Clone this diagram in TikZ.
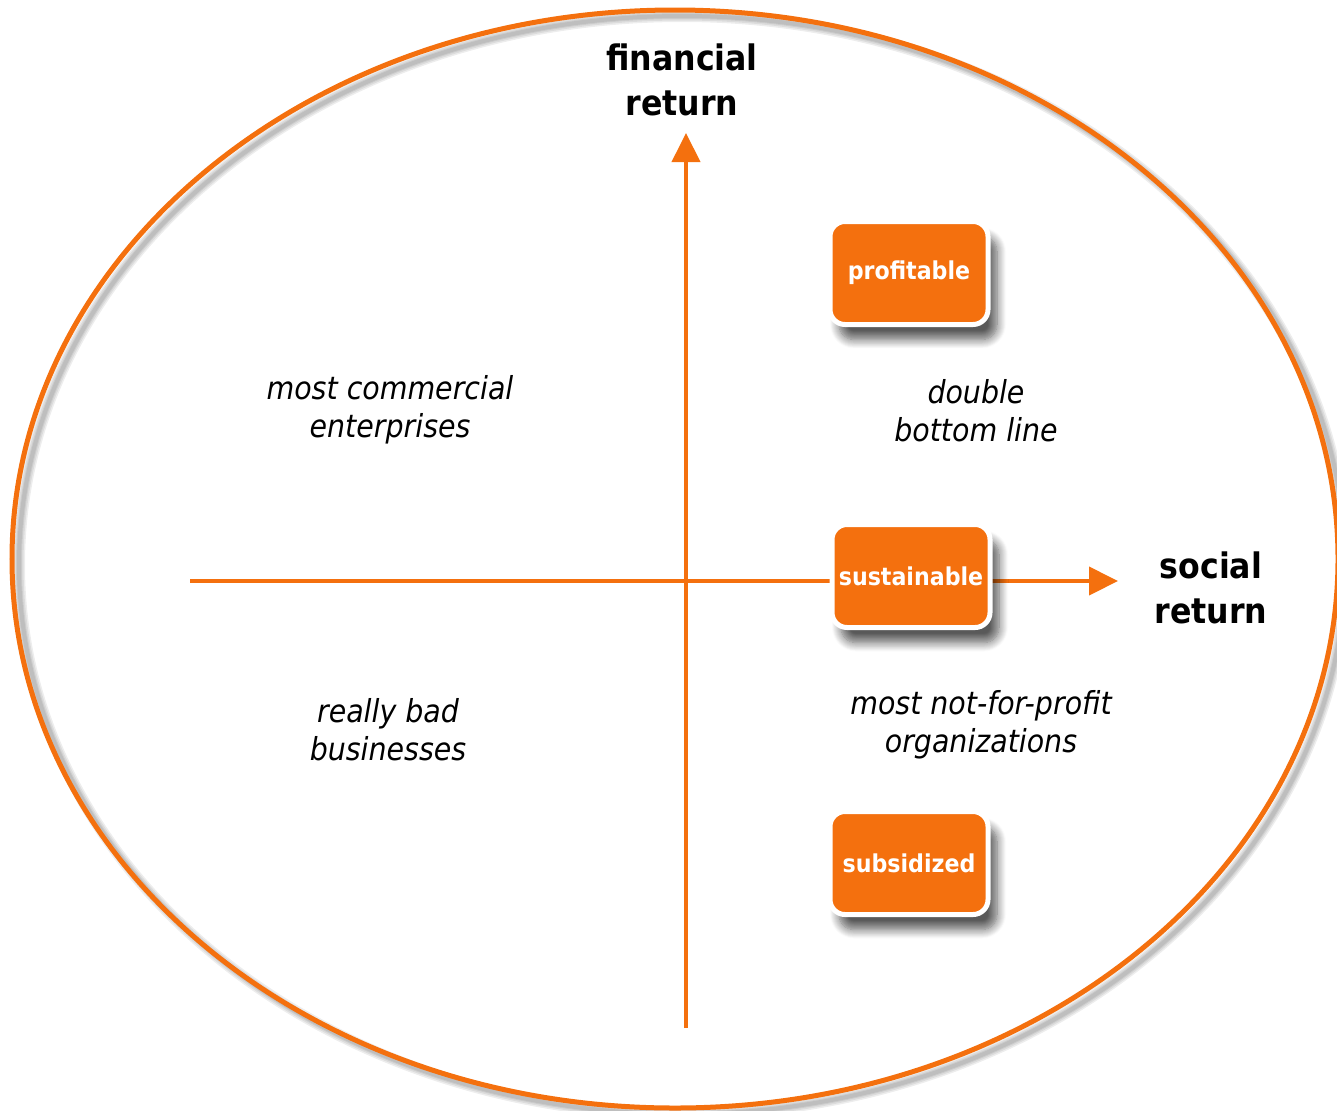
\documentclass[tikz,border=0pt]{standalone}
\usepackage{fontspec}
\setmainfont{DejaVu Sans Condensed}
\usepackage{tikz}
\usetikzlibrary{arrows.meta,shadows.blur}
\definecolor{orng}{RGB}{244,112,14}

\begin{document}
\begin{tikzpicture}[
    box/.style={rounded corners=0.15cm, fill=orng, draw=white, line width=0.05cm,
        minimum width=1.58cm, minimum height=1.03cm, inner xsep=0.06cm, text=white,
        font=\fontsize{7}{9}\selectfont\bfseries,
        blur shadow={shadow xshift=0.09cm, shadow yshift=-0.15cm, shadow opacity=65, shadow blur steps=10, shadow blur radius=0.09cm}},
    note/.style={align=center, font=\fontsize{9}{10.8}\selectfont\itshape},
    title/.style={align=center, font=\fontsize{10}{12.8}\selectfont\bfseries},
    axis/.style={draw=orng, line width=0.04cm},
    tip/.style={-{Triangle[length=0.29cm,width=0.28cm]}}
]
\useasboundingbox (0,0) rectangle (13.37,11.10);

% outer ellipse with a soft shadow
\foreach \w in {0.12,0.09,0.06,0.04}
    \draw[black, opacity=0.07, line width=\w cm] (6.82,5.45) ellipse [x radius=6.63, y radius=5.49];
\draw[orng, line width=0.05cm] (6.75,5.51) ellipse [x radius=6.63, y radius=5.49];

% axes
\coordinate (ybot) at (6.86,0.82);
\coordinate (ytop) at (6.86,9.77);
\coordinate (xleft) at (1.90,5.29);
\coordinate (xright) at (11.18,5.29);
\draw[axis,tip,fill=orng] (ybot) -- (ytop);
\draw[axis,tip,fill=orng] (xleft) -- (xright);

\node[title] (fin) at (6.82,10.30) {financial\\return};
\node[title] (soc) at (12.11,5.22) {social\\return};

% the three boxes
\node[box] (prof) at (9.09,8.37) {profitable};
\node[box] (sust) at (9.11,5.34) {sustainable};
\node[box] (subs) at (9.09,2.47) {subsidized};

% quadrant notes
\node[note] (comm) at (3.90,7.00) {most commercial\\enterprises};
\node[note] (dbl) at (9.76,6.99) {double\\bottom line};
\node[note] (bad) at (3.88,3.80) {really bad\\businesses};
\node[note] (npo) at (9.81,3.85) {most not-for-profit\\organizations};
\end{tikzpicture}
\end{document}
